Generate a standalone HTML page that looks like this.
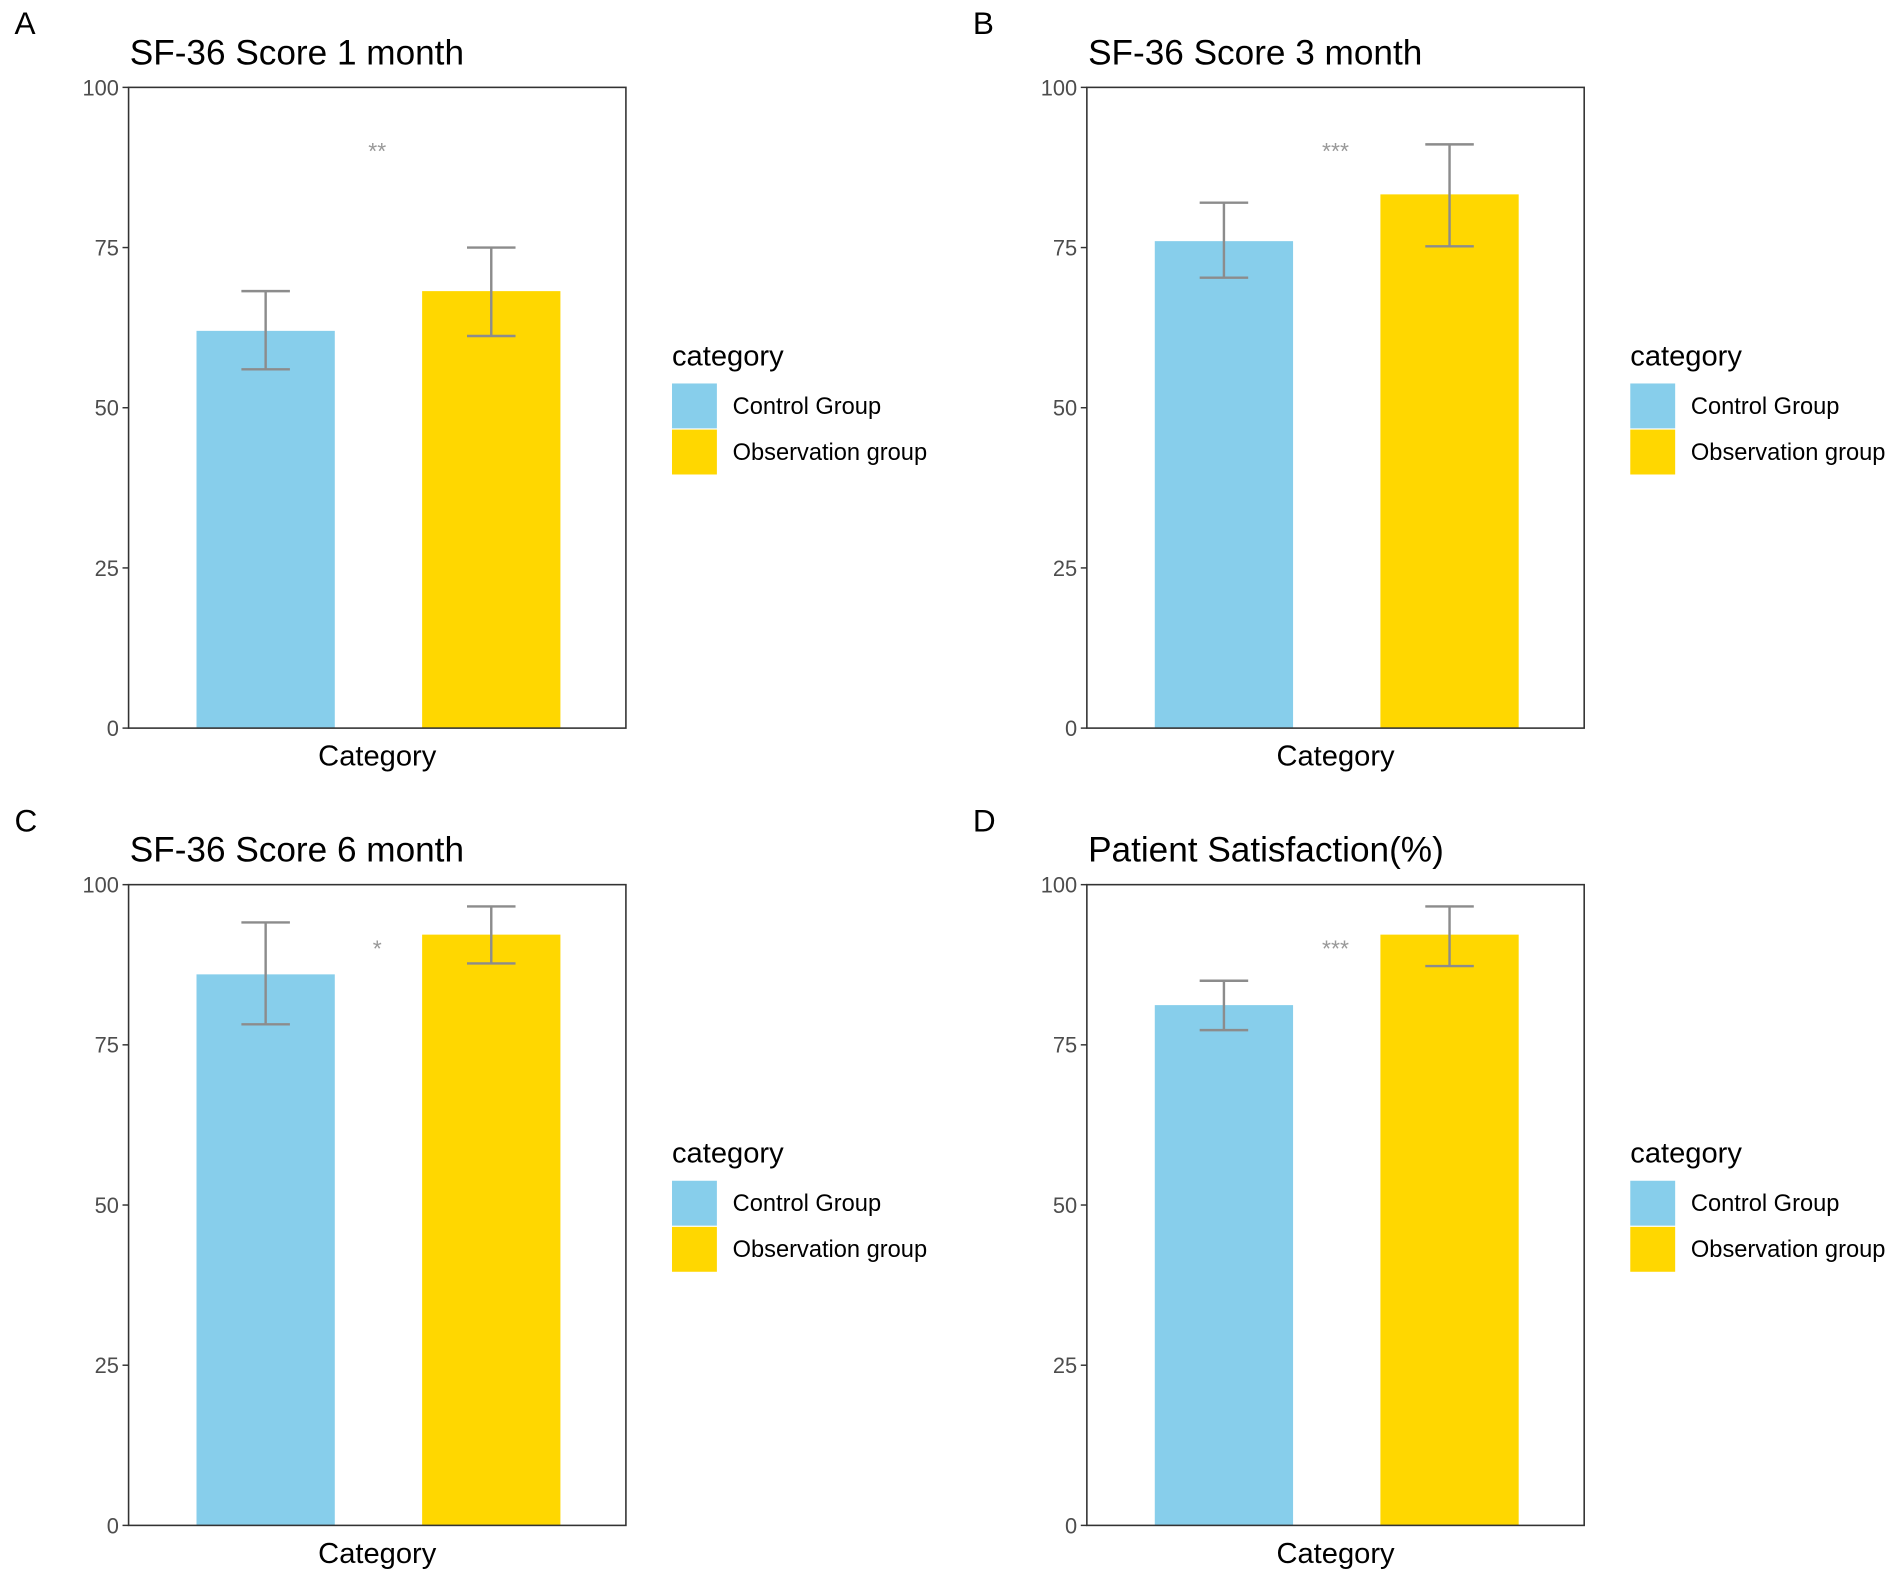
<!DOCTYPE html>
<html><head><meta charset="utf-8"><style>
html,body{margin:0;padding:0;background:#fff}
svg{display:block;font-family:"Liberation Sans",Arial,sans-serif}
</style></head><body>
<svg id="fig" width="1902" height="1580" viewBox="0 0 1568 1302" preserveAspectRatio="none" xmlns="http://www.w3.org/2000/svg"></svg>
<script>
const panelLetters = ["A","B","C","D"];
const panelTitles = ["SF-36 Score 1 month","SF-36 Score 3 month","SF-36 Score 6 month","Patient Satisfaction(%)"];
const groups = ["Control Group","Observation group"];
const controlMeans = [62, 76, 86, 81.2];
const controlLow = [56, 70.3, 78.2, 77.3];
const controlHigh = [68.2, 82, 94.1, 85];
const obsMeans = [68.2, 83.3, 92.2, 92.2];
const obsLow = [61.2, 75.2, 87.7, 87.3];
const obsHigh = [75, 91.1, 96.6, 96.6];
const sigLabels = ["**","***","*","***"];
const sigY = [90.5, 90.5, 90.5, 90.5];
const yTicks = [0,25,50,75,100];
const colors = ["#87CEEB","#FFD700"];

const NS="http://www.w3.org/2000/svg";
const svg=document.getElementById('fig');
function mk(tag,attrs,parent,text){const e=document.createElementNS(NS,tag);for(const k in attrs)e.setAttribute(k,attrs[k]);if(text!==undefined)e.textContent=text;(parent||svg).appendChild(e);return e;}

const origins=[[0,0],[790,0],[0,657],[790,657]];
origins.forEach((o,i)=>{
  const ox=o[0], oy=o[1];
  const L=106+ox, R=516+ox, T=72+oy, B=600+oy;
  const y=v=>B-(v/100)*(B-T);
  const g=mk('g',{});
  
  
  let t=mk('text',{x:12+ox,y:28+oy,'font-size':26,fill:'#000'},g,panelLetters[i]);
  
  t=mk('text',{x:107+ox,y:53+oy,'font-size':29,fill:'#000'},g,panelTitles[i]);
  
  yTicks.forEach(v=>{
    const l=mk('line',{x1:L-5,x2:L,y1:y(v),y2:y(v),stroke:'#333','stroke-width':1.2},g);
    
    const tx=mk('text',{x:L-8,y:y(v)+6.5,'font-size':18,fill:'#4d4d4d','text-anchor':'end'},g,String(v));
    
  });
  const bars=[[controlMeans[i],controlLow[i],controlHigh[i],162],[obsMeans[i],obsLow[i],obsHigh[i],348]];
  bars.forEach((b,j)=>{
    const bx=b[3]+ox, w=114, cx=bx+w/2;
    const r=mk('rect',{x:bx,y:y(b[0]),width:w,height:B-y(b[0]),fill:colors[j]},g);
    
    
    const eg=mk('g',{stroke:'#8c8c8c','stroke-width':2,fill:'none'},g);
    
    
    mk('line',{x1:cx,x2:cx,y1:y(b[1]),y2:y(b[2])},eg);
    mk('line',{x1:cx-20,x2:cx+20,y1:y(b[1]),y2:y(b[1])},eg);
    mk('line',{x1:cx-20,x2:cx+20,y1:y(b[2]),y2:y(b[2])},eg);
  });
  t=mk('text',{x:(L+R)/2,y:y(sigY[i])+9,'font-size':19,fill:'#999','text-anchor':'middle'},g,sigLabels[i]);
  
  const fr=mk('rect',{x:L,y:T,width:R-L,height:B-T,fill:'none',stroke:'#333','stroke-width':1.3},g);
  
  t=mk('text',{x:(L+R)/2,y:B+31,'font-size':24,fill:'#000','text-anchor':'middle'},g,'Category');
  
  const lg=mk('g',{},g);
  
  t=mk('text',{x:554+ox,y:301+oy,'font-size':24,fill:'#000'},lg,'category');
  
  groups.forEach((gname,j)=>{
    const ky=316+oy+j*38;
    const e=mk('g',{},lg);
    
    mk('rect',{x:554+ox,y:ky,width:37,height:37,fill:colors[j]},e);
    mk('text',{x:604+ox,y:ky+25,'font-size':19.5,fill:'#000'},e,gname);
  });
});
</script>
</body></html>
